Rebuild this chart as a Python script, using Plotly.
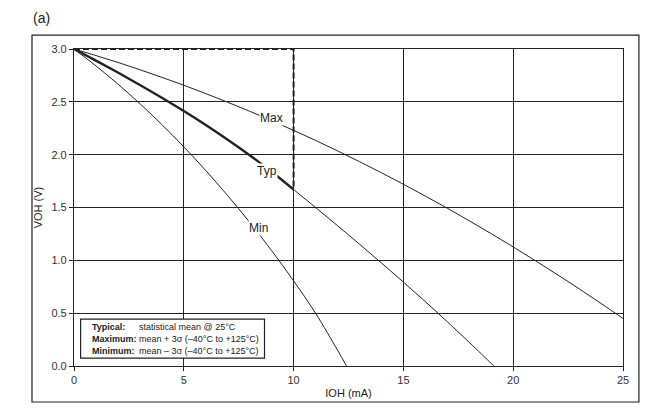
import plotly.graph_objects as go

# IOH (mA) vs VOH (V)
ioh_max = [0, 1, 2, 3, 4, 5, 6, 7, 8, 9, 10, 11, 12, 13, 14, 15, 16, 17, 18, 19, 20, 21, 22, 23, 24, 25]
voh_max = [3.0, 2.938, 2.873, 2.804, 2.732, 2.657, 2.578, 2.496, 2.411, 2.322, 2.230, 2.135, 2.036,
           1.934, 1.829, 1.720, 1.608, 1.493, 1.374, 1.252, 1.127, 0.998, 0.866, 0.731, 0.592, 0.450]

ioh_typ = [0, 1, 2, 3, 4, 5, 6, 7, 8, 9, 10, 11, 12, 13, 14, 15, 16, 17, 18, 19, 19.12]
voh_typ = [3.0, 2.89, 2.777, 2.66, 2.539, 2.413, 2.281, 2.142, 1.995, 1.838, 1.67, 1.50, 1.328,
           1.153, 0.975, 0.794, 0.609, 0.419, 0.224, 0.024, 0.0]

ioh_min = [0, 1, 2, 3, 4, 5, 6, 7, 8, 9, 10, 11, 12, 12.41]
voh_min = [3.0, 2.84, 2.668, 2.483, 2.285, 2.074, 1.85, 1.612, 1.36, 1.092, 0.806, 0.5, 0.15, 0.0]

# dashed spec box: 10 mA limit at VOH typ
box_ioh = [0, 10, 10]
box_voh = [3.0, 3.0, 1.67]

curve_labels = ["Max", "Typ", "Min"]
label_ioh = [9.0, 8.8, 8.4]
label_voh = [2.35, 1.845, 1.31]

legend_keys = ["Typical:", "Maximum:", "Minimum:"]
legend_text = ["statistical mean @ 25\u00b0C",
               "mean + 3\u03c3 (\u201340\u00b0C to +125\u00b0C)",
               "mean \u2013 3\u03c3 (\u201340\u00b0C to +125\u00b0C)"]

FONT = "Liberation Sans, Arial, sans-serif"
INK = "#222222"

fig = go.Figure()

fig.add_trace(go.Scatter(x=ioh_max, y=voh_max, mode="lines", line_shape="spline",
                         line=dict(color=INK, width=1), showlegend=False))
fig.add_trace(go.Scatter(x=ioh_min, y=voh_min, mode="lines", line_shape="spline",
                         line=dict(color=INK, width=1), showlegend=False))
# typ: thick up to 10 mA, thin after
thick_x = [x for x in ioh_typ if x <= 10]
thick_y = voh_typ[:len(thick_x)]
thin_x = ioh_typ[len(thick_x) - 1:]
thin_y = voh_typ[len(thick_x) - 1:]
fig.add_trace(go.Scatter(x=thin_x, y=thin_y, mode="lines", line_shape="spline",
                         line=dict(color=INK, width=1), showlegend=False))
fig.add_trace(go.Scatter(x=thick_x, y=thick_y, mode="lines", line_shape="spline",
                         line=dict(color=INK, width=2.4), showlegend=False))
fig.add_trace(go.Scatter(x=box_ioh, y=box_voh, mode="lines",
                         line=dict(color=INK, width=2, dash="6px,3px"), showlegend=False))

# curve labels, white background breaks the lines like the original
for name, lx, ly in zip(curve_labels, label_ioh, label_voh):
    fig.add_annotation(x=lx, y=ly, text=name, showarrow=False, bgcolor="white",
                       borderpad=0, font=dict(family=FONT, size=12, color=INK))

# legend box
fig.add_shape(type="rect", xref="paper", yref="paper", x0=0.012, x1=0.347, y0=0.025, y1=0.148,
              line=dict(color=INK, width=1.2), fillcolor="white", layer="above")
for i, (k, t) in enumerate(zip(legend_keys, legend_text)):
    yy = 0.124 - i * 0.039
    fig.add_annotation(xref="paper", yref="paper", x=0.030, y=yy, xanchor="left", yanchor="middle",
                       text="<b>" + k + "</b>", showarrow=False,
                       font=dict(family=FONT, size=9, color=INK))
    fig.add_annotation(xref="paper", yref="paper", x=0.115, y=yy, xanchor="left", yanchor="middle",
                       text=t, showarrow=False, font=dict(family=FONT, size=9, color=INK))

# outer frame
fig.add_shape(type="rect", xref="paper", yref="paper", x0=-0.0765, x1=1.029, y0=-0.1136, y1=1.044,
              line=dict(color=INK, width=1.2), layer="above")

fig.add_annotation(xref="paper", yref="paper", x=-0.079, y=1.098, xanchor="left", yanchor="middle",
                   text="(a)", showarrow=False, font=dict(family=FONT, size=14, color=INK))

axis_common = dict(showgrid=True, gridcolor=INK, gridwidth=1.2, showline=True, linecolor=INK,
                   linewidth=1.2, mirror=True, ticks="outside", ticklen=4, tickcolor=INK,
                   zeroline=False, tickfont=dict(family=FONT, size=11, color="#333333"))

# page body has an 8px margin, so the figure is shrunk by 8px and margins shifted
fig.update_layout(
    width=647, height=409,
    margin=dict(l=66, r=32, t=41, b=51),
    plot_bgcolor="white", paper_bgcolor="white",
    font=dict(family=FONT, color=INK),
    xaxis=dict(range=[0, 25], dtick=5, title=dict(text="IOH (mA)", standoff=4,
                                                  font=dict(family=FONT, size=11, color=INK)),
               **axis_common),
    yaxis=dict(range=[0, 3], dtick=0.5, tickformat=".1f",
               title=dict(text="VOH (V)", standoff=6, font=dict(family=FONT, size=11, color=INK)),
               **axis_common),
)

fig.write_html("out.html")
